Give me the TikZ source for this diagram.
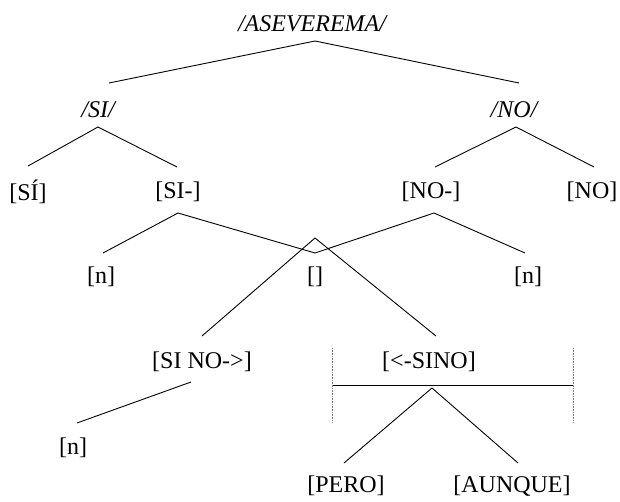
\documentclass[tikz,border=0pt]{standalone}
\usepackage{fontspec}
\setmainfont{Liberation Serif}
\begin{document}
\begin{tikzpicture}[x=1pt,y=-1pt,
  lbl/.style={inner sep=0pt,font=\fontsize{24}{28}\selectfont},
  ilbl/.style={inner sep=0pt,font=\fontsize{24}{28}\selectfont\itshape},
  br/.style={line width=0.9pt},
  dots/.style={densely dotted,line width=0.6pt,gray}]
\useasboundingbox (0,0) rectangle (620,501);
% nodes
\node[ilbl] (ase) at (312,24) {/ASEVEREMA/};
\node[ilbl] (si) at (98,110) {/SI/};
\node[ilbl] (no) at (514,110) {/NO/};
\node[lbl] (sia) at (28,192) {[SÍ]};
\node[lbl] (sim) at (178,192) {[SI-]};
\node[lbl] (nom) at (431,192) {[NO-]};
\node[lbl] (nob) at (592,192) {[NO]};
\node[lbl] (n1) at (101,277) {[n]};
\node[lbl] (e) at (315,277) {[]};
\node[lbl] (n2) at (528,277) {[n]};
\node[lbl] (sino1) at (202,362) {[SI NO->]};
\node[lbl] (sino2) at (429,362) {[<-SINO]};
\node[lbl] (n3) at (73,448) {[n]};
\node[lbl] (pero) at (346,486) {[PERO]};
\node[lbl] (aunque) at (512,486) {[AUNQUE]};
% connector points
\coordinate (aseA) at (315,41);
\coordinate (siT) at (109,83);
\coordinate (noT) at (519,83);
\coordinate (siA) at (98,127);
\coordinate (siaT) at (28,166);
\coordinate (simT) at (177,167);
\coordinate (noA) at (516,127);
\coordinate (nomT) at (435,167);
\coordinate (nobT) at (594,167);
\coordinate (simA) at (178,213);
\coordinate (n1T) at (103,253);
\coordinate (eV) at (315,253);
\coordinate (nomA) at (434,213);
\coordinate (n2T) at (525,253);
\coordinate (eA) at (315,238);
\coordinate (sino1T) at (202,336);
\coordinate (sino2T) at (436,336);
\coordinate (sino1A) at (191,382);
\coordinate (n3T) at (77,423);
\coordinate (barL) at (332,385);
\coordinate (barR) at (573,385);
\coordinate (dLt) at (332,348);
\coordinate (dLb) at (332,423);
\coordinate (dRt) at (573,348);
\coordinate (dRb) at (573,423);
\coordinate (sino2A) at (432,388);
\coordinate (peroT) at (344,463);
\coordinate (aunqueT) at (518,463);
% connectors
\draw[br] (siT) -- (aseA) -- (noT);
\draw[br] (siaT) -- (siA) -- (simT);
\draw[br] (nomT) -- (noA) -- (nobT);
\draw[br] (n1T) -- (simA) -- (eV) -- (nomA) -- (n2T);
\draw[br] (sino1T) -- (eA) -- (sino2T);
\draw[br] (sino1A) -- (n3T);
\draw[br] (barL) -- (barR);
\draw[dots] (dLt) -- (dLb);
\draw[dots] (dRt) -- (dRb);
\draw[br] (peroT) -- (sino2A) -- (aunqueT);
\end{tikzpicture}
\end{document}
